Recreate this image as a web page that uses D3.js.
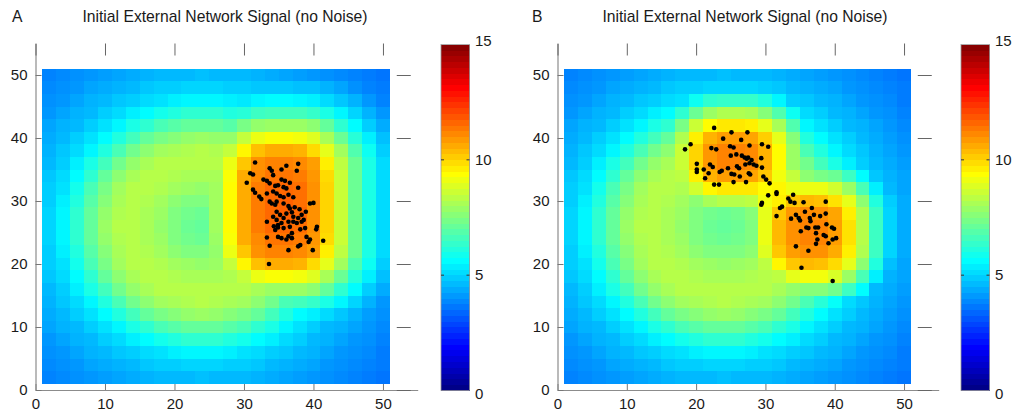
<!DOCTYPE html>
<html><head><meta charset="utf-8">
<script src="https://cdn.jsdelivr.net/npm/d3@7"></script>
<style>
body{margin:0;background:#fff;}
text{font-family:"Liberation Sans",Arial,Helvetica,sans-serif;fill:#1a1a1a;}
</style></head><body>
<svg id="chart" width="1024" height="414"></svg>
<script>
// ---- data ----
const xCells=[2,4,6,8,10,12,14,16,18,20,22,24,26,28,30,32,34,36,38,40,42,44,46,48,50];
const yCells=[50,48,46,44,42,40,38,36,34,32,30,28,26,24,22,20,18,16,14,12,10,8,6,4,2];
const axisTicks=[0,10,20,30,40,50];
const colorTicks=[0,5,10,15];
const panelLetters=["A","B"];
const panelTitles=["Initial External Network Signal (no Noise)","Initial External Network Signal (no Noise)"];

// signal per cell, rows from y=50 (top) to y=2 (bottom), columns x=2..50
const signalA=[
[3.8,3.9,4.0,4.1,4.2,4.3,4.4,4.5,4.6,4.6,4.6,4.7,4.6,4.6,4.6,4.5,4.4,4.3,4.2,4.1,4.0,3.9,3.8,3.7,3.6],
[3.9,4.0,4.1,4.3,4.4,4.5,4.6,4.8,4.9,4.9,5.0,5.0,5.0,4.9,4.9,4.8,4.8,4.8,4.7,4.7,4.5,4.3,4.0,3.8,3.7],
[4.0,4.1,4.3,4.5,4.6,4.8,4.9,5.1,5.2,5.4,5.5,5.5,5.5,5.4,5.3,5.5,5.6,5.6,5.5,5.4,5.1,4.8,4.5,4.1,3.8],
[4.1,4.3,4.5,4.6,4.9,5.1,5.4,5.6,5.9,6.1,6.3,6.3,6.3,6.1,6.2,6.5,6.6,6.6,6.6,6.4,6.0,5.5,5.0,4.5,4.1],
[4.3,4.5,4.6,4.9,5.2,5.5,6.0,6.3,6.7,6.9,7.1,7.1,7.1,6.9,7.4,7.8,7.9,7.9,7.9,7.7,7.1,6.3,5.6,4.9,4.4],
[4.4,4.6,4.9,5.2,5.6,6.1,6.6,7.1,7.4,7.6,7.8,7.9,7.8,7.8,8.5,9.1,9.3,9.3,9.2,8.9,8.1,7.2,6.2,5.4,4.7],
[4.5,4.8,5.1,5.5,6.1,6.7,7.3,7.7,8.0,8.1,8.2,8.3,8.2,8.5,9.5,10.3,10.6,10.6,10.5,9.9,9.0,8.0,6.8,5.8,4.9],
[4.6,4.9,5.4,6.0,6.6,7.3,7.8,8.1,8.3,8.3,8.3,8.3,8.3,9.1,10.2,11.0,11.2,11.2,11.1,10.8,9.6,8.4,7.2,6.0,5.1],
[4.8,5.1,5.6,6.3,7.1,7.7,8.1,8.3,8.3,8.2,8.1,8.1,8.1,9.3,10.6,11.1,11.4,11.4,11.3,10.9,9.9,8.6,7.2,6.0,5.1],
[4.9,5.2,5.9,6.7,7.4,8.0,8.3,8.3,8.2,8.0,7.9,7.8,8.0,9.4,10.6,11.3,11.6,11.6,11.5,11.0,10.0,8.6,7.2,6.0,5.1],
[4.9,5.4,6.1,6.9,7.6,8.1,8.3,8.2,8.0,7.7,7.5,7.5,8.0,9.4,10.6,11.3,11.6,11.7,11.5,11.0,10.0,8.6,7.2,6.0,5.1],
[5.0,5.5,6.3,7.1,7.8,8.2,8.3,8.1,7.9,7.5,7.3,7.2,8.0,9.4,10.6,11.3,11.6,11.7,11.6,11.0,10.0,8.6,7.2,6.0,5.1],
[5.0,5.5,6.3,7.1,7.9,8.3,8.3,8.1,7.8,7.5,7.2,7.1,8.0,9.4,10.6,11.3,11.6,11.6,11.5,11.0,10.0,8.6,7.2,6.0,5.1],
[5.0,5.5,6.3,7.1,7.8,8.2,8.3,8.1,7.9,7.5,7.3,7.2,7.9,9.3,10.6,11.1,11.4,11.4,11.3,10.9,9.9,8.6,7.2,6.0,5.1],
[4.9,5.4,6.1,6.9,7.6,8.1,8.3,8.2,8.0,7.7,7.5,7.5,7.8,9.1,10.2,11.0,11.2,11.2,11.1,10.8,9.6,8.4,7.2,6.0,5.1],
[4.9,5.2,5.9,6.7,7.4,8.0,8.3,8.3,8.2,8.0,7.9,7.8,7.9,8.5,9.5,10.3,10.6,10.6,10.5,9.9,9.0,8.0,6.8,5.8,4.9],
[4.8,5.1,5.6,6.3,7.1,7.7,8.1,8.3,8.3,8.2,8.1,8.1,8.1,8.2,8.5,9.1,9.3,9.3,9.2,8.9,8.1,7.2,6.2,5.4,4.7],
[4.6,4.9,5.4,6.0,6.6,7.3,7.8,8.1,8.3,8.3,8.3,8.3,8.3,8.3,8.3,8.1,7.9,7.9,7.9,7.7,7.1,6.3,5.6,4.9,4.4],
[4.5,4.8,5.1,5.5,6.1,6.7,7.3,7.7,8.0,8.1,8.2,8.3,8.2,8.1,8.0,7.7,7.3,6.7,6.6,6.4,6.0,5.5,5.0,4.5,4.1],
[4.4,4.6,4.9,5.2,5.6,6.1,6.6,7.1,7.4,7.6,7.8,7.9,7.8,7.6,7.4,7.1,6.6,6.1,5.6,5.4,5.1,4.8,4.5,4.2,4.0],
[4.3,4.5,4.6,4.9,5.2,5.5,6.0,6.3,6.7,6.9,7.1,7.1,7.1,6.9,6.7,6.3,6.0,5.5,5.2,4.9,4.6,4.5,4.3,4.1,3.9],
[4.1,4.3,4.5,4.6,4.9,5.1,5.4,5.6,5.9,6.1,6.3,6.3,6.3,6.1,5.9,5.6,5.4,5.1,4.9,4.6,4.5,4.3,4.1,4.0,3.8],
[4.0,4.1,4.3,4.5,4.6,4.8,4.9,5.1,5.2,5.4,5.5,5.5,5.5,5.4,5.2,5.1,4.9,4.8,4.6,4.5,4.3,4.1,4.0,3.9,3.7],
[3.9,4.0,4.1,4.3,4.4,4.5,4.6,4.8,4.9,4.9,5.0,5.0,5.0,4.9,4.9,4.8,4.6,4.5,4.4,4.3,4.1,4.0,3.9,3.8,3.7],
[3.8,3.9,4.0,4.1,4.2,4.3,4.4,4.5,4.6,4.6,4.6,4.7,4.6,4.6,4.6,4.5,4.4,4.3,4.2,4.1,4.0,3.9,3.8,3.7,3.6]
];
const signalB=[
[3.8,3.9,4.0,4.1,4.2,4.3,4.4,4.5,4.6,4.6,4.6,4.7,4.6,4.6,4.6,4.5,4.4,4.3,4.2,4.1,4.0,3.9,3.8,3.7,3.6],
[3.9,4.0,4.1,4.3,4.4,4.5,4.6,4.8,4.9,4.9,5.0,5.0,5.0,5.0,4.9,4.8,4.6,4.5,4.4,4.3,4.1,4.0,3.9,3.8,3.7],
[4.0,4.1,4.3,4.5,4.6,4.8,4.9,5.1,5.2,5.8,6.3,6.4,6.4,6.4,6.1,5.5,4.9,4.8,4.6,4.5,4.3,4.1,4.0,3.9,3.7],
[4.1,4.3,4.5,4.6,4.9,5.1,5.4,5.6,6.3,7.2,7.9,8.2,8.2,8.1,7.6,6.8,5.8,5.1,4.9,4.6,4.5,4.3,4.1,4.0,3.8],
[4.3,4.5,4.6,4.9,5.2,5.5,6.0,6.3,7.4,8.6,9.4,9.7,9.7,9.6,9.0,8.1,6.8,5.5,5.2,4.9,4.6,4.5,4.3,4.1,3.9],
[4.4,4.6,4.9,5.2,5.6,6.1,6.6,7.1,8.2,9.6,10.5,10.8,10.8,10.7,10.1,9.0,7.6,6.1,5.6,5.2,4.9,4.6,4.4,4.2,4.0],
[4.5,4.8,5.1,5.5,6.1,6.7,7.3,7.7,8.6,10.0,10.9,11.2,11.2,11.1,10.5,9.4,7.9,6.7,6.1,5.5,5.1,4.8,4.5,4.3,4.1],
[4.6,4.9,5.4,6.0,6.6,7.3,7.8,8.1,8.6,10.0,10.9,11.2,11.2,11.1,10.5,9.4,7.9,7.3,6.6,6.0,5.4,4.9,4.6,4.4,4.2],
[4.8,5.1,5.6,6.3,7.1,7.7,8.1,8.3,8.4,9.6,10.5,10.8,10.8,10.7,10.2,9.2,8.5,7.7,7.4,7.2,6.5,5.6,4.8,4.5,4.3],
[4.9,5.2,5.9,6.7,7.4,8.0,8.3,8.3,8.2,8.7,9.5,9.7,9.7,9.7,9.4,9.5,9.1,9.1,9.1,8.7,7.9,6.7,5.4,4.6,4.3],
[4.9,5.4,6.1,6.9,7.6,8.1,8.3,8.2,8.0,7.7,8.1,8.3,8.3,8.4,9.2,9.6,10.2,10.4,10.3,9.8,9.0,7.7,6.1,4.9,4.4],
[5.0,5.5,6.3,7.1,7.8,8.2,8.3,8.1,7.9,7.5,7.3,7.2,7.3,7.6,9.0,10.2,10.9,11.1,11.0,10.7,9.6,8.2,6.5,5.0,4.4],
[5.0,5.5,6.3,7.1,7.9,8.3,8.3,8.1,7.8,7.5,7.2,7.1,7.2,7.5,9.1,10.4,11.0,11.2,11.2,10.8,9.8,8.3,6.5,5.0,4.4],
[5.0,5.5,6.3,7.1,7.8,8.2,8.3,8.1,7.9,7.5,7.3,7.2,7.3,7.5,9.1,10.4,11.0,11.2,11.2,10.8,9.8,8.3,6.5,5.0,4.4],
[4.9,5.4,6.1,6.9,7.6,8.1,8.3,8.2,8.0,7.7,7.5,7.5,7.5,7.7,8.9,10.2,10.8,11.0,11.0,10.6,9.6,8.2,6.5,5.0,4.4],
[4.9,5.2,5.9,6.7,7.4,8.0,8.3,8.3,8.2,8.0,7.9,7.8,7.9,8.0,8.4,9.5,10.2,10.4,10.3,9.9,9.0,7.7,6.1,4.7,4.3],
[4.8,5.1,5.6,6.3,7.1,7.7,8.1,8.3,8.3,8.2,8.1,8.1,8.1,8.2,8.3,8.4,9.0,9.2,9.2,8.8,7.9,6.7,5.4,4.5,4.3],
[4.6,4.9,5.4,6.0,6.6,7.3,7.8,8.1,8.3,8.3,8.3,8.3,8.3,8.3,8.3,8.1,7.8,7.6,7.6,7.3,6.5,5.6,4.6,4.4,4.2],
[4.5,4.8,5.1,5.5,6.1,6.7,7.3,7.7,8.0,8.1,8.2,8.3,8.2,8.1,8.0,7.7,7.3,6.7,6.2,5.7,5.1,4.8,4.5,4.3,4.1],
[4.4,4.6,4.9,5.2,5.6,6.1,6.6,7.1,7.4,7.6,7.8,7.9,7.8,7.6,7.4,7.1,6.6,6.1,5.6,5.2,4.9,4.6,4.4,4.2,4.0],
[4.3,4.5,4.6,4.9,5.2,5.5,6.0,6.3,6.7,6.9,7.1,7.1,7.1,6.9,6.7,6.3,6.0,5.5,5.2,4.9,4.6,4.5,4.3,4.1,3.9],
[4.1,4.3,4.5,4.6,4.9,5.1,5.4,5.6,5.9,6.1,6.3,6.3,6.3,6.1,5.9,5.6,5.4,5.1,4.9,4.6,4.5,4.3,4.1,4.0,3.8],
[4.0,4.1,4.3,4.5,4.6,4.8,4.9,5.1,5.2,5.4,5.5,5.5,5.5,5.4,5.2,5.1,4.9,4.8,4.6,4.5,4.3,4.1,4.0,3.9,3.7],
[3.9,4.0,4.1,4.3,4.4,4.5,4.6,4.8,4.9,4.9,5.0,5.0,5.0,4.9,4.9,4.8,4.6,4.5,4.4,4.3,4.1,4.0,3.9,3.8,3.7],
[3.8,3.9,4.0,4.1,4.2,4.3,4.4,4.5,4.6,4.6,4.6,4.7,4.6,4.6,4.6,4.5,4.4,4.3,4.2,4.1,4.0,3.9,3.8,3.7,3.6]
];

// network nodes [x, y]
const nodesA=[
[31.6,36.1],[33.7,35.2],[34.0,34.8],[35.4,35.0],[36.1,35.6],[37.8,35.9],[30.9,34.4],[31.3,34.2],[34.2,34.1],[37.6,34.8],
[30.4,32.9],[32.8,33.4],[33.3,33.2],[33.7,32.8],[35.4,33.4],[35.9,33.2],[36.6,32.9],[34.5,32.4],[34.9,32.5],[35.7,32.2],
[36.1,32.0],[37.8,32.1],[31.3,31.8],[31.6,31.3],[32.2,30.7],[32.5,30.3],[33.3,31.2],[34.2,31.5],[34.7,31.2],[35.2,30.8],
[35.7,30.6],[36.4,31.0],[37.1,30.6],[33.7,29.9],[34.0,29.6],[34.5,29.4],[34.7,29.9],[35.7,29.6],[36.4,29.2],[36.6,28.8],
[37.3,29.0],[38.0,28.7],[39.5,29.6],[40.0,29.7],[34.7,28.3],[35.2,27.8],[35.7,27.3],[36.1,28.0],[36.9,28.2],[37.1,27.5],
[37.8,27.3],[38.3,27.8],[38.9,28.3],[33.3,26.7],[34.2,27.5],[34.7,27.0],[34.9,26.2],[35.4,26.5],[36.4,26.7],[37.1,26.7],
[37.6,26.5],[38.3,26.7],[38.6,27.0],[33.3,24.2],[34.3,26.0],[34.5,25.4],[34.9,25.8],[35.7,25.7],[36.6,25.9],[36.9,24.9],
[38.1,25.5],[38.8,25.7],[40.5,25.9],[40.4,25.5],[34.9,24.3],[35.4,24.1],[36.1,23.9],[36.4,24.4],[36.9,24.1],[39.0,24.3],
[39.5,23.9],[41.4,23.7],[33.7,22.9],[36.4,22.2],[37.8,22.8],[38.1,23.0],[39.9,22.2],[39.3,23.5],[33.6,20.0]
];
const nodesB=[
[18.4,38.2],[19.2,39.0],[22.6,41.6],[25.1,40.9],[27.4,40.9],[23.9,39.9],[26.5,39.7],[29.5,39.0],[30.4,38.6],[22.2,38.4],
[22.9,38.2],[24.9,38.7],[25.4,38.5],[27.7,38.8],[20.1,35.9],[20.1,35.0],[20.1,34.6],[21.1,35.0],[21.8,34.4],[22.0,35.8],
[22.4,35.4],[21.3,33.6],[23.7,34.8],[23.4,34.6],[24.6,35.2],[25.0,37.2],[25.8,37.4],[26.6,37.2],[27.0,36.9],[27.3,36.7],
[27.5,36.9],[28.0,36.5],[27.1,35.8],[27.7,36.0],[25.9,35.5],[26.2,35.2],[28.3,35.8],[28.7,35.6],[29.4,36.8],[29.5,35.3],
[25.1,34.3],[25.5,34.2],[26.3,33.9],[27.6,34.4],[27.8,34.2],[29.7,33.9],[30.1,33.4],[30.6,32.8],[25.4,33.0],[27.2,33.0],
[22.6,32.6],[23.3,32.6],[30.4,30.9],[31.6,31.4],[31.6,31.1],[29.5,29.7],[29.4,29.4],[32.1,28.9],[32.4,29.1],[31.6,27.6],
[33.3,30.4],[34.0,31.0],[34.2,29.7],[33.6,29.9],[35.5,29.8],[35.7,28.3],[36.7,28.9],[37.0,27.8],[34.4,27.8],[34.8,27.3],
[35.0,26.9],[36.4,27.3],[36.5,26.8],[33.7,27.2],[37.9,27.6],[38.7,29.9],[38.7,28.0],[35.9,25.8],[36.2,25.7],[35.1,25.2],
[37.2,25.8],[37.3,24.9],[37.6,25.8],[38.8,26.3],[39.6,25.8],[39.9,25.6],[38.4,24.6],[38.7,24.4],[37.5,23.9],[37.3,23.2],
[39.1,23.3],[39.7,23.9],[40.2,24.1],[34.4,22.8],[36.2,22.1],[35.2,19.4],[39.7,17.3]
];

// ---- drawing ----
const svg=d3.select("#chart");
const jet=d3.scaleLinear()
  .domain([0,1.875,5.625,9.375,13.125,15])
  .range(["#000080","#0000ff","#00ffff","#ffff00","#ff0000","#800000"])
  .clamp(true);

const panels=[
  {letter:panelLetters[0],title:panelTitles[0],signal:signalA,nodes:nodesA,x0:35.5,x1:417.7,cb:441,letterX:12,titleX:225},
  {letter:panelLetters[1],title:panelTitles[1],signal:signalB,nodes:nodesB,x0:557.5,x1:938.7,cb:961,letterX:532,titleX:745}
];
const yTop=43.5, yBot=390;

panels.forEach(p=>{
  const g=svg.append("g");
  const xs=d3.scaleLinear().domain([0,55]).range([p.x0,p.x1]);
  const ys=d3.scaleLinear().domain([0,55]).range([yBot,yTop]);
  const cells=[];
  yCells.forEach((yc,j)=>xCells.forEach((xc,i)=>cells.push({x:xc,y:yc,v:p.signal[j][i]})));
  g.append("g").selectAll("rect").data(cells).join("rect")
    .attr("x",d=>xs(d.x-1)).attr("y",d=>ys(d.y+1))
    .attr("width",d=>xs(d.x+1)-xs(d.x-1)+0.4)
    .attr("height",d=>ys(d.y-1)-ys(d.y+1)+0.4)
    .attr("fill",d=>jet(d.v))
    .attr("shape-rendering","crispEdges");
  g.append("g").selectAll("circle").data(p.nodes).join("circle")
    .attr("cx",d=>xs(d[0])).attr("cy",d=>ys(d[1])).attr("r",2.3).attr("fill","#000");

  // axes
  const ax=g.append("g").attr("transform",`translate(0,${yBot})`)
    .call(d3.axisBottom(xs).tickValues(axisTicks).tickSizeInner(-6).tickSizeOuter(0).tickPadding(14));
  const ay=g.append("g").attr("transform",`translate(${p.x0},0)`)
    .call(d3.axisLeft(ys).tickValues(axisTicks).tickSizeInner(-6).tickSizeOuter(0).tickPadding(8));
  const at=g.append("g").attr("transform",`translate(0,${yTop})`)
    .call(d3.axisTop(xs).tickValues(axisTicks).tickSizeInner(-12).tickSizeOuter(0).tickFormat(""));
  const ar=g.append("g").attr("transform",`translate(${xs(54)},0)`)
    .call(d3.axisRight(ys).tickValues(axisTicks).tickSizeInner(-14).tickSizeOuter(0).tickFormat(""));
  [ax,ay].forEach(a=>{
    a.select(".domain").attr("stroke","#8c8c8c").attr("stroke-width",1.2);
    a.selectAll(".tick line").attr("stroke","#777");
    a.selectAll(".tick text").attr("font-size",15).attr("fill","#1a1a1a")
      .attr("font-family","'Liberation Sans',Arial,sans-serif");
  });
  ax.selectAll(".tick text").attr("dy","0.35em").attr("y",14);
  [at,ar].forEach(a=>{
    a.select(".domain").remove();
    a.selectAll(".tick line").attr("stroke","#666");
  });

  // colorbar
  const cs=d3.scaleLinear().domain([0,15]).range([390.5,44.5]);
  const stops=d3.range(0,15.01,0.25);
  const cb=g.append("g");
  cb.selectAll("rect").data(stops.slice(0,-1)).join("rect")
    .attr("x",p.cb).attr("width",28.5)
    .attr("y",d=>cs(d+0.25)).attr("height",d=>cs(d)-cs(d+0.25)+0.3)
    .attr("fill",d=>jet(d+0.125)).attr("shape-rendering","crispEdges");
  cb.append("rect").attr("x",p.cb).attr("y",44.5).attr("width",28.5).attr("height",346)
    .attr("fill","none").attr("stroke","#9a9a9a").attr("stroke-width",0.8);
  colorTicks.forEach(t=>{
    if(t>0&&t<15){
      cb.append("line").attr("x1",p.cb).attr("x2",p.cb+3).attr("y1",cs(t)).attr("y2",cs(t)).attr("stroke","#333");
      cb.append("line").attr("x1",p.cb+28.5).attr("x2",p.cb+25.5).attr("y1",cs(t)).attr("y2",cs(t)).attr("stroke","#333");
    }
    cb.append("text").attr("x",p.cb+34).attr("y",cs(t)).attr("dy",t===15?"0.1em":(t===0?"0.55em":"0.35em"))
      .attr("font-size",15).text(t);
  });

  // titles
  g.append("text").attr("x",p.letterX).attr("y",22).attr("font-size",15.7).text(p.letter);
  g.append("text").attr("x",p.titleX).attr("y",22).attr("font-size",15.7).attr("text-anchor","middle").text(p.title);
});
</script>
</body></html>
